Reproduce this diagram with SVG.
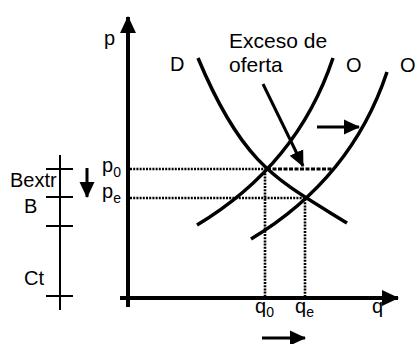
<svg xmlns="http://www.w3.org/2000/svg" width="418" height="344" viewBox="0 0 418 344">
<style>
text{font-family:"Liberation Sans",Arial,sans-serif;fill:#000}
.lbl{font-size:20px}
.sub{font-size:14px}
.big{font-size:21px}
.axis{stroke:#000;stroke-width:4;fill:none}
.curve{stroke:#000;stroke-width:3.5;fill:none}
.dot{stroke:#000;stroke-width:2.6;stroke-dasharray:2 1.2;fill:none}
.dash{stroke:#000;stroke-width:3.2;stroke-dasharray:4 1.5;fill:none}
.thin{stroke:#000;stroke-width:2;fill:none}
.arr{stroke:#000;stroke-width:3;fill:none}
</style>
<defs>
<marker id="ah" markerUnits="userSpaceOnUse" markerWidth="17" markerHeight="17" viewBox="0 0 17 17" refX="15" refY="8.5" orient="auto">
<path d="M0,1 L16,8.5 L0,16 Z" fill="#000"/>
</marker>
<marker id="axh" markerUnits="userSpaceOnUse" markerWidth="18" markerHeight="18" viewBox="0 0 18 18" refX="16" refY="9" orient="auto">
<path d="M0,1 L17,9 L0,17 Z" fill="#000"/>
</marker>
</defs>
<g id="connectors">
<path class="dot" d="M130,169 H267"/>
<path class="dash" d="M267,169 H333"/>
<path class="dot" d="M130,198 H305"/>
<path class="dot" d="M265,170 V297"/>
<path class="dot" d="M305,199 V297"/>
<path class="arr" d="M263,84 L303,166" marker-end="url(#ah)"/>
<path class="arr" d="M317,127 L359,127" marker-end="url(#ah)"/>
<path class="arr" d="M262,338 L305,338" marker-end="url(#ah)"/>
<path class="arr" d="M87,168 L87,197" marker-end="url(#ah)"/>
</g>
<g id="axes">
<path class="axis" d="M128,307 V17" marker-end="url(#axh)"/>
<path class="axis" d="M120,298 H398" marker-end="url(#axh)"/>
<text class="lbl" x="104" y="45">p</text>
<text class="lbl" x="372" y="313">q</text>
</g>
<g id="demand">
<path class="curve" d="M198,58 C243,166 277,179.6 347,223"/>
<text class="lbl" x="170" y="71">D</text>
</g>
<g id="supply1">
<path class="curve" d="M197,225 C242,198 303,148 333,58"/>
<text class="lbl" x="346" y="72">O</text>
</g>
<g id="supply2">
<path class="curve" d="M251,239 C296,212 357,162 387,72"/>
<text class="lbl" x="400" y="72">O</text>
</g>
<g id="excess">
<text class="big" x="229" y="48">Exceso de</text>
<text class="big" x="229" y="72">oferta</text>
</g>
<g id="prices">
<text class="lbl" x="102" y="172">p<tspan class="sub" dy="5">0</tspan></text>
<text class="lbl" x="102" y="198">p<tspan class="sub" dy="5">e</tspan></text>
</g>
<g id="quantities">
<text class="lbl" x="255" y="313">q<tspan class="sub" dy="4">0</tspan></text>
<text class="lbl" x="295" y="313">q<tspan class="sub" dy="4">e</tspan></text>
</g>
<g id="scale">
<path class="thin" d="M60,155 V310 M46,169 H73 M46,197 H73 M46,226 H73 M46,296 H73"/>
<text class="lbl" x="10" y="187">Bextr</text>
<text class="lbl" x="24" y="213">B</text>
<text class="lbl" x="24" y="285">Ct</text>
</g>
</svg>
